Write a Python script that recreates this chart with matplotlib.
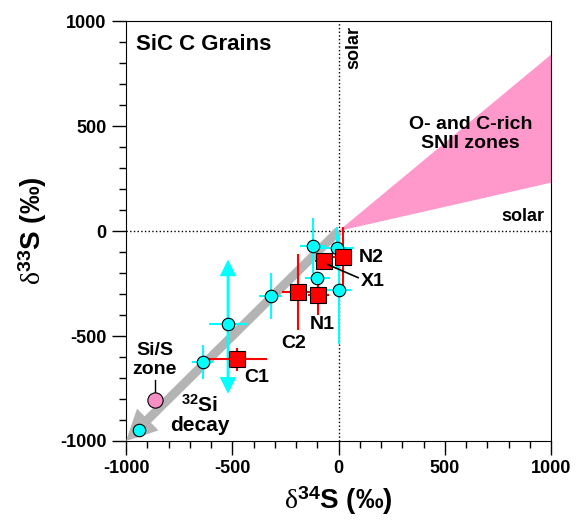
import numpy as np
import matplotlib
matplotlib.use("Agg")
import matplotlib.pyplot as plt
from matplotlib.ticker import MultipleLocator
from matplotlib.patches import Polygon

plt.rcParams['font.family'] = ['Liberation Sans', 'DejaVu Sans']
plt.rcParams['mathtext.fontset'] = 'custom'
plt.rcParams['mathtext.rm'] = 'Liberation Serif'
plt.rcParams['mathtext.bf'] = 'Liberation Sans:bold'
plt.rcParams['mathtext.it'] = 'Liberation Serif:italic'

# ===== data (d34S, d33S in permil) =====
# cyan grains
cyan_x = [-120, -5, -100, 0, -320, -520, -640, -940]
cyan_y = [-70, -80, -225, -280, -310, -445, -625, -950]
cyan_xerr = [60, 80, 60, 60, 55, 90, 50, 0]
cyan_yerr = [130, 100, 30, 260, 110, 0, 80, 0]
# the -520 grain has an open-ended d33S range (drawn as arrows)
arrow_x = -520
arrow_up = -136
arrow_down = -775

# red C grains
red_names = ['N2', 'X1', 'C2', 'N1', 'C1']
red_x = [20, -70, -190, -95, -480]
red_y = [-125, -145, -290, -305, -610]
red_xerr = [45, 40, 75, 50, 145]
red_yerr = [145, 40, 180, 95, 55]
red_label_xy = [(95, -125), (105, -240), (-210, -535), (-75, -445), (-384, -697)]

# Si/S zone point
sis_x = [-865]
sis_y = [-805]

# SNII wedge (from solar to right edge)
wedge_x = [0, 1000, 1000]
wedge_y = [0, 840, 230]

fig = plt.figure(figsize=(5.81, 5.23), dpi=100)
ax = fig.add_axes([0.2169, 0.1568, 0.7315, 0.803])

ax.add_patch(Polygon(np.column_stack([wedge_x, wedge_y]), closed=True,
                     facecolor='#ff99cc', edgecolor='none', zorder=1))

# solar lines
ax.axvline(0, color='black', ls=':', lw=1, zorder=2)
ax.axhline(0, color='black', ls=':', lw=1, zorder=2)

# 32Si decay arrow
ax.annotate('', xy=(-1000, -1000), xytext=(0, 0), annotation_clip=False,
            arrowprops=dict(facecolor='#b4b4b4', edgecolor='none',
                            width=6.5, headwidth=22, headlength=22, shrink=0),
            zorder=3)

# cyan error bars + points
ax.errorbar(cyan_x, cyan_y, xerr=cyan_xerr, yerr=cyan_yerr, fmt='none',
            ecolor='cyan', elinewidth=1.5, capsize=0, zorder=4)
ax.annotate('', xy=(arrow_x, arrow_up), xytext=(arrow_x, -445),
            arrowprops=dict(facecolor='cyan', edgecolor='none', width=2,
                            headwidth=12, headlength=12, shrink=0), zorder=4)
ax.annotate('', xy=(arrow_x, arrow_down), xytext=(arrow_x, -445),
            arrowprops=dict(facecolor='cyan', edgecolor='none', width=2,
                            headwidth=12, headlength=12, shrink=0), zorder=4)

# red error bars + squares
ax.errorbar(red_x, red_y, xerr=red_xerr, yerr=red_yerr, fmt='none',
            ecolor='red', elinewidth=1.5, capsize=0, zorder=5)
ax.plot(cyan_x, cyan_y, 'o', ms=9, mfc='cyan', mec='black', mew=0.8, zorder=6)
ax.plot(red_x, red_y, 's', ms=12, mfc='red', mec='black', mew=0.8, zorder=7)
ax.plot(sis_x, sis_y, 'o', ms=11, mfc='#f58fc4', mec='black', mew=0.8, zorder=6)

for name, (lx, ly) in zip(red_names, red_label_xy):
    ha = 'left' if name in ('N2', 'X1') else 'center'
    ax.text(lx, ly, name, fontsize=14, fontweight='bold', ha=ha, va='center', zorder=8)
# leader line for X1
ax.plot([-50, 92], [-160, -222], color='black', lw=1.2, zorder=8)

ax.text(-865, -616, 'Si/S\nzone', fontsize=14, fontweight='bold', ha='center',
        va='center', linespacing=1.15)
ax.plot([-865, -865], [-708, -772], color='black', lw=1)
ax.text(-655, -873, r'$\mathbf{^{32}}$Si' + '\ndecay', fontsize=15, fontweight='bold',
        ha='center', va='center', linespacing=1.05)

ax.text(-955, 887, 'SiC C Grains', fontsize=16, fontweight='bold', ha='left', va='center')
ax.text(620, 460, 'O- and C-rich\nSNII zones', fontsize=14, fontweight='bold',
        ha='center', va='center', linespacing=1.15)
ax.text(70, 873, 'solar', fontsize=13, fontweight='bold', rotation=90,
        ha='center', va='center')
ax.text(970, 68, 'solar', fontsize=13, fontweight='bold', ha='right', va='center')

ax.set_xlim(-1000, 1000)
ax.set_ylim(-1000, 1000)
ax.xaxis.set_major_locator(MultipleLocator(500))
ax.yaxis.set_major_locator(MultipleLocator(500))
ax.xaxis.set_minor_locator(MultipleLocator(100))
ax.yaxis.set_minor_locator(MultipleLocator(100))
ax.tick_params(which='major', direction='out', length=10, width=1, labelsize=13, pad=4)
ax.tick_params(which='minor', direction='out', length=5, width=1)
for lab in ax.get_xticklabels() + ax.get_yticklabels():
    lab.set_fontweight('bold')
ax.xaxis.set_major_formatter(plt.FuncFormatter(lambda v, p: '%d' % v))
ax.yaxis.set_major_formatter(plt.FuncFormatter(lambda v, p: '%d' % v))

ax.set_xlabel(r'$\mathrm{\delta}^{\mathbf{34}}$S (‰)', fontsize=20, fontweight='bold', labelpad=5)
ax.set_ylabel(r'$\mathrm{\delta}^{\mathbf{33}}$S (‰)', fontsize=20, fontweight='bold', labelpad=8)

plt.savefig("out.png", dpi=100)
